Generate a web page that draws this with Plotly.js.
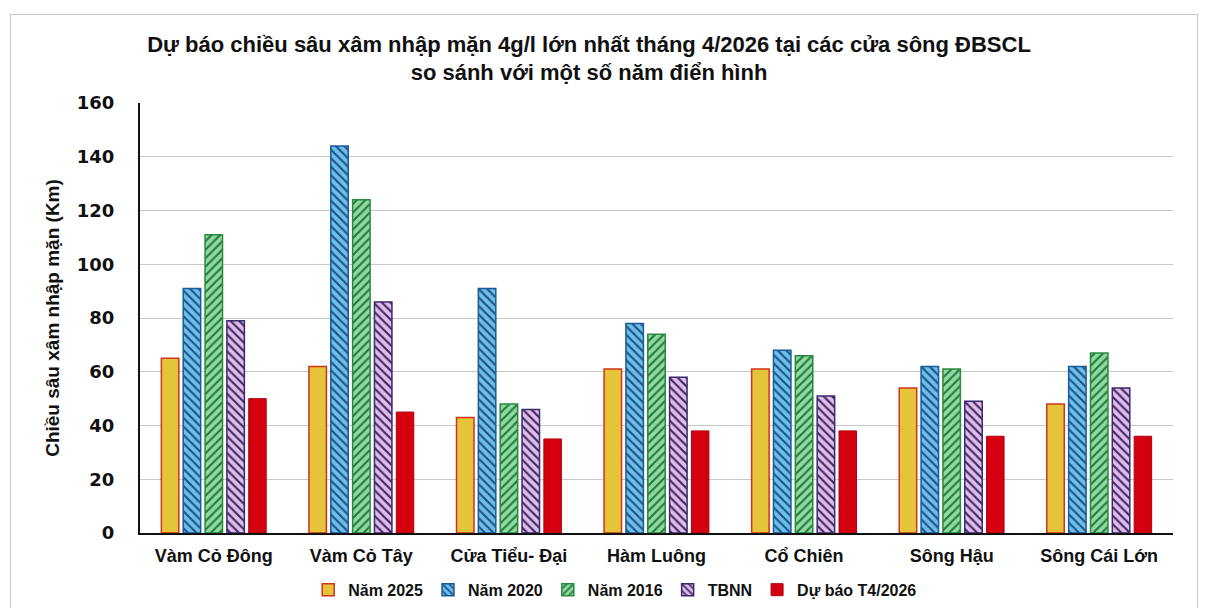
<!DOCTYPE html>
<html>
<head>
<meta charset="utf-8">
<script src="https://cdn.plot.ly/plotly-3.0.1.min.js"></script>
<style>
  html, body { margin: 0; padding: 0; background: #ffffff; }
  #chart { position: absolute; left: 0; top: 0; width: 1207px; height: 608px; }
  #frame { position: absolute; left: 10px; top: 14px; width: 1186px; height: 600px; border: 1px solid #c8c8c8; pointer-events: none; }
</style>
</head>
<body>
<div id="chart"></div>
<div id="frame"></div>
<script>
const categories = ["Vàm Cỏ Đông", "Vàm Cỏ Tây", "Cửa Tiểu- Đại", "Hàm Luông", "Cổ Chiên", "Sông Hậu", "Sông Cái Lớn"];
const seriesNames = ["Năm 2025", "Năm 2020", "Năm 2016", "TBNN", "Dự báo T4/2026"];
const nam2025 = [65, 62, 43, 61, 61, 54, 48];
const nam2020 = [91, 144, 91, 78, 68, 62, 62];
const nam2016 = [111, 124, 48, 74, 66, 61, 67];
const tbnn = [79, 86, 46, 58, 51, 49, 54];
const duBao = [50, 45, 35, 38, 38, 36, 36];
const yTicks = [0, 20, 40, 60, 80, 100, 120, 140, 160];

const narrow = "Liberation Sans Narrow, Arial Narrow, sans-serif";
const catFont = { family: narrow, size: 18, color: "#111", weight: "bold" };

const traces = [
  {
    type: "bar", name: seriesNames[0], x: categories, y: nam2025,
    marker: { color: "#e6c43a", line: { color: "#d0341a", width: 1.5 } }
  },
  {
    type: "bar", name: seriesNames[1], x: categories, y: nam2020,
    marker: { color: "#1e4f8c", line: { color: "#1d5a9a", width: 1.5 },
      pattern: { shape: "\\", bgcolor: "#6cc0e6", fgcolor: "#1e4f8c", size: 6, solidity: 0.35 } }
  },
  {
    type: "bar", name: seriesNames[2], x: categories, y: nam2016,
    marker: { color: "#1f7a3a", line: { color: "#2a8a40", width: 1.5 },
      pattern: { shape: "/", bgcolor: "#92d8a2", fgcolor: "#1f7a3a", size: 6, solidity: 0.35 } }
  },
  {
    type: "bar", name: seriesNames[3], x: categories, y: tbnn,
    marker: { color: "#3a2866", line: { color: "#3a2a6e", width: 1.5 },
      pattern: { shape: "\\", bgcolor: "#e2bce8", fgcolor: "#3a2866", size: 6, solidity: 0.35 } }
  },
  {
    type: "bar", name: seriesNames[4], x: categories, y: duBao,
    marker: { color: "#d4000f", line: { color: "#b0000c", width: 1 } }
  }
];

const layout = {
  width: 1207, height: 608,
  paper_bgcolor: "#ffffff", plot_bgcolor: "#ffffff",
  margin: { l: 140, r: 34, t: 103, b: 75, autoexpand: false },
  barmode: "group", bargap: 0.26, bargroupgap: 0.2,
  title: {
    text: "<b>Dự báo chiều sâu xâm nhập mặn 4g/l lớn nhất tháng 4/2026 tại các cửa sông ĐBSCL<br>so sánh với một số năm điển hình</b>",
    font: { family: narrow, size: 22, color: "#111" },
    x: 0.488, xanchor: "center", y: 0.915, yanchor: "top"
  },
  xaxis: {
    type: "category", automargin: false,
    tickfont: catFont,
    showline: true, linecolor: "#111", linewidth: 2,
    ticks: "", showgrid: false, ticklabelstandoff: 5
  },
  yaxis: {
    range: [0, 160], tickvals: yTicks, ticktext: yTicks.map(String), automargin: false,
    tickfont: { family: "DejaVu Sans, Verdana, sans-serif", size: 18, color: "#111", weight: "bold" },
    showline: true, linecolor: "#111", linewidth: 2,
    gridcolor: "#c8c8c8", gridwidth: 1, zeroline: false, ticks: "", ticklabelstandoff: 20,
    title: { text: "<b>Chiều sâu xâm nhập mặn (Km)</b>", font: { family: narrow, size: 19, color: "#111" }, standoff: 12 }
  },
  showlegend: true,
  legend: {
    orientation: "h", x: 0.46, xanchor: "center", yref: "container", y: 0.03, yanchor: "middle",
    bgcolor: "rgba(0,0,0,0)",
    font: { family: narrow, size: 16, color: "#111", weight: "bold" },
    itemwidth: 30, tracegroupgap: 0
  }
};

Plotly.newPlot("chart", traces, layout, { displayModeBar: false, staticPlot: true });
</script>
</body>
</html>
